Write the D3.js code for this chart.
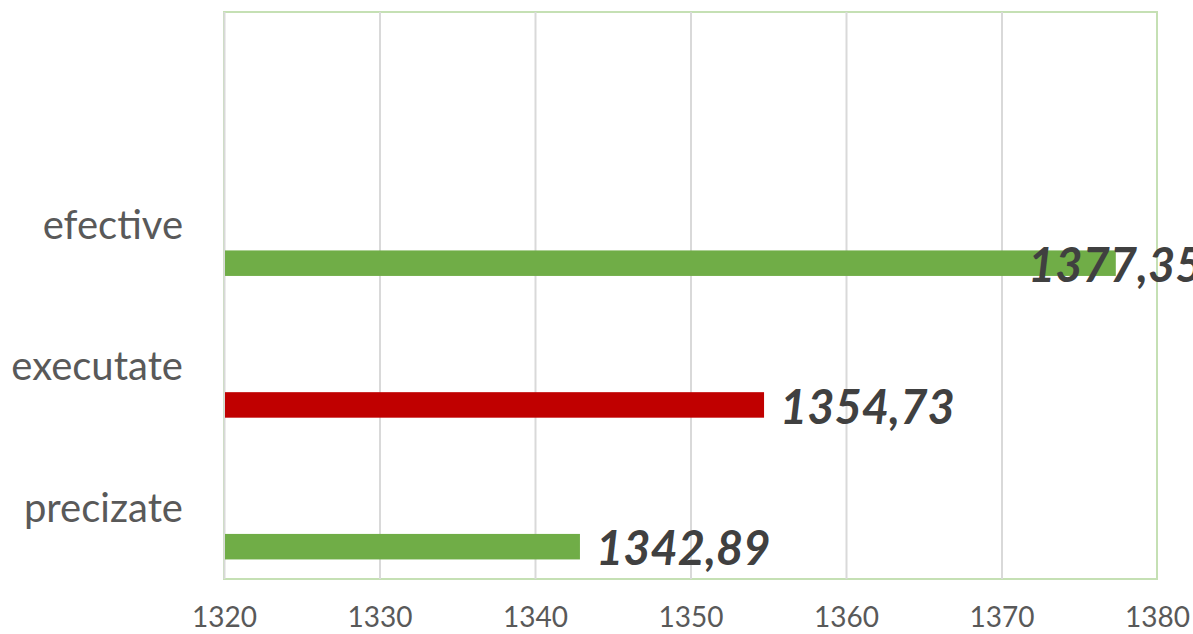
<!DOCTYPE html>
<html lang="ro">
<head>
<meta charset="utf-8" />
<title>efective / executate / precizate</title>
<style type="text/css">
	body { margin: 0; background: #fff; }
	svg text { font-family: Lato, "Open Sans", sans-serif; }
</style>
</head>
<body>
<div id="graph"></div>
<script src="https://d3js.org/d3.v7.min.js"></script>
<script type="text/javascript">
	let CHART_WIDTH = 1193;
	let CHART_HEIGHT = 634;
	var margin = { top: 12, right: 36, bottom: 55, left: 224 },
		width = CHART_WIDTH - margin.left - margin.right,
		height = CHART_HEIGHT - margin.top - margin.bottom;

	// bottom to top, like the excel chart; top slot has no name
	var categories = ["precizate", "executate", "efective", ""];
	var values = [1342.89, 1354.73, 1377.35, null];
	var barColors = ["#70AD47", "#C00000", "#70AD47", null];
	var xTicks = [1320, 1330, 1340, 1350, 1360, 1370, 1380];

	var data = categories.map((c, i) => ({ cat: c, value: values[i], color: barColors[i] }));

	var svg = d3.select("#graph").append("svg")
		.attr("width", CHART_WIDTH)
		.attr("height", CHART_HEIGHT)
		.append("g")
		.attr("transform", "translate(" + margin.left + "," + margin.top + ")");

	var xScale = d3.scaleLinear().domain([1320, 1380]).range([0, width]);
	var yScale = d3.scaleBand().domain(categories.slice().reverse()).range([0, height]);

	// plot area border (green)
	svg.append("rect")
		.attr("x", 0).attr("y", 0)
		.attr("width", width).attr("height", height)
		.attr("fill", "none")
		.attr("stroke", "#C5E0B4")
		.attr("stroke-width", 2);

	// vertical gridlines
	svg.append("g")
		.attr("class", "grid-x")
		.attr("transform", "translate(0," + height + ")")
		.call(d3.axisBottom(xScale).tickValues(xTicks.slice(0, -1)).tickSize(-height).tickFormat(""))
		.call(g => g.select(".domain").remove())
		.selectAll("line")
		.attr("stroke", "#D9D9D9")
		.attr("stroke-width", 2);

	// x axis labels
	svg.append("g")
		.attr("class", "x axis")
		.attr("transform", "translate(0," + height + ")")
		.call(d3.axisBottom(xScale).tickValues(xTicks).tickSize(0).tickPadding(0).tickFormat(d3.format("d")))
		.call(g => g.select(".domain").remove())
		.selectAll("text")
		.attr("y", 48)
		.attr("dy", 0)
		.attr("fill", "#595959")
		.style("font-size", "28px");

	// category labels
	svg.append("g")
		.selectAll("text")
		.data(data)
		.enter()
		.append("text")
		.attr("x", -41)
		.attr("y", d => yScale(d.cat) + yScale.bandwidth() / 2)
		.attr("dy", "0.35em")
		.attr("text-anchor", "end")
		.attr("fill", "#595959")
		.style("font-size", "40px")
		.text(d => d.cat);

	var barData = data.filter(d => d.value != null);
	var barOff = yScale.bandwidth() * 0.682,
		barH = yScale.bandwidth() * 0.18;

	svg.selectAll(".bar")
		.data(barData)
		.enter()
		.append("rect")
		.attr("class", "bar")
		.attr("x", 1)
		.attr("y", d => yScale(d.cat) + barOff)
		.attr("width", d => xScale(d.value) - 1)
		.attr("height", barH)
		.attr("fill", d => d.color);

	// value labels, pulled back inside when they'd run off the plot
	var fmt = v => d3.format(".2f")(v).replace(".", ",");
	svg.selectAll(".val")
		.data(barData)
		.enter()
		.append("text")
		.attr("class", "val")
		.attr("x", d => Math.min(xScale(d.value) + 16, width - 129))
		.attr("y", d => yScale(d.cat) + barOff + barH / 2)
		.attr("dy", "0.4em")
		.attr("fill", "#404040")
		.style("font-size", "47px")
		.style("font-weight", "bold")
		.style("font-style", "italic")
		.text(d => fmt(d.value));
</script>
</body>
</html>
